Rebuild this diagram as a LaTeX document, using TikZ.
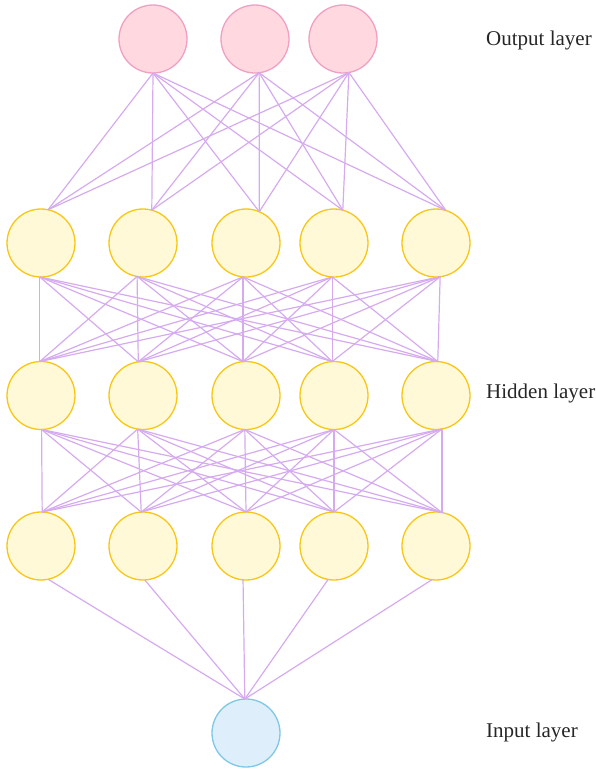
\documentclass[tikz,border=0pt]{standalone}
\usepackage{fontspec}
\setmainfont{Liberation Serif}
\usetikzlibrary{calc}
\definecolor{linec}{RGB}{214,170,238}
\definecolor{pinkfill}{RGB}{255,216,224}
\definecolor{pinkdraw}{RGB}{240,160,195}
\definecolor{yelfill}{RGB}{255,249,216}
\definecolor{yeldraw}{RGB}{248,198,20}
\definecolor{bluefill}{RGB}{222,238,250}
\definecolor{bluedraw}{RGB}{126,200,230}
\tikzset{
  neuron/.style={circle,minimum size=68pt,inner sep=0pt,outer sep=0pt,line width=1.3pt},
  outn/.style={neuron,draw=pinkdraw,fill=pinkfill},
  hidn/.style={neuron,draw=yeldraw,fill=yelfill},
  inn/.style={neuron,draw=bluedraw,fill=bluefill},
  conn/.style={draw=linec,line width=1.2pt},
  lbl/.style={anchor=base west,inner sep=0pt,font=\fontsize{21}{24}\selectfont,text=black!85}
}
\begin{document}
\begin{tikzpicture}[x=1pt,y=-1pt]
\useasboundingbox (0,0) rectangle (595,769);
% nodes
\node[outn] (o1) at (153,39) {};
\node[outn] (o2) at (255,39) {};
\node[outn] (o3) at (343,39) {};
\foreach \i/\x in {1/41,2/143,3/246,4/334,5/436}{
  \node[hidn] (a\i) at (\x,243) {};
  \node[hidn] (b\i) at (\x,395.5) {};
  \node[hidn] (c\i) at (\x,546) {};
}
\node[inn] (in) at (246,733) {};
% attach points
\foreach \i/\ang in {1/270,2/277,3/280}{\coordinate (o\i b) at (o\i.\ang);}
\foreach \i/\ang in {1/78,2/75,3/67.5,4/75,5/73}{\coordinate (a\i t) at (a\i.\ang);}
\foreach \i/\ang in {1/268,2/260,3/265,4/267,5/277}{\coordinate (a\i b) at (a\i.\ang);}
\foreach \i/\ang in {1/92,2/98.5,3/95,4/93,5/87}{\coordinate (b\i t) at (b\i.\ang);}
\foreach \i/\ang in {1/271,2/261.5,3/268,4/270,5/280}{\coordinate (b\i b) at (b\i.\ang);}
\foreach \i/\ang in {1/88,2/93,3/90,4/90,5/80}{\coordinate (c\i t) at (c\i.\ang);}
\foreach \i/\ang in {1/282,2/273,3/265,4/260,5/263}{\coordinate (c\i b) at (c\i.\ang);}
\coordinate (in t) at (in.92);
% connectors
\foreach \i in {1,2,3}{\foreach \j in {1,...,5}{\draw[conn] (o\i b) -- (a\j t);}}
\foreach \i in {1,...,5}{\foreach \j in {1,...,5}{
  \draw[conn] (a\i b) -- (b\j t);
  \draw[conn] (b\i b) -- (c\j t);}}
\foreach \i in {1,...,5}{\draw[conn] (c\i b) -- (in t);}
% labels
\node[lbl] (lo) at (486,45) {Output layer};
\node[lbl] (lh) at (486,398) {Hidden layer};
\node[lbl] (li) at (486,737) {Input layer};
\end{tikzpicture}
\end{document}
